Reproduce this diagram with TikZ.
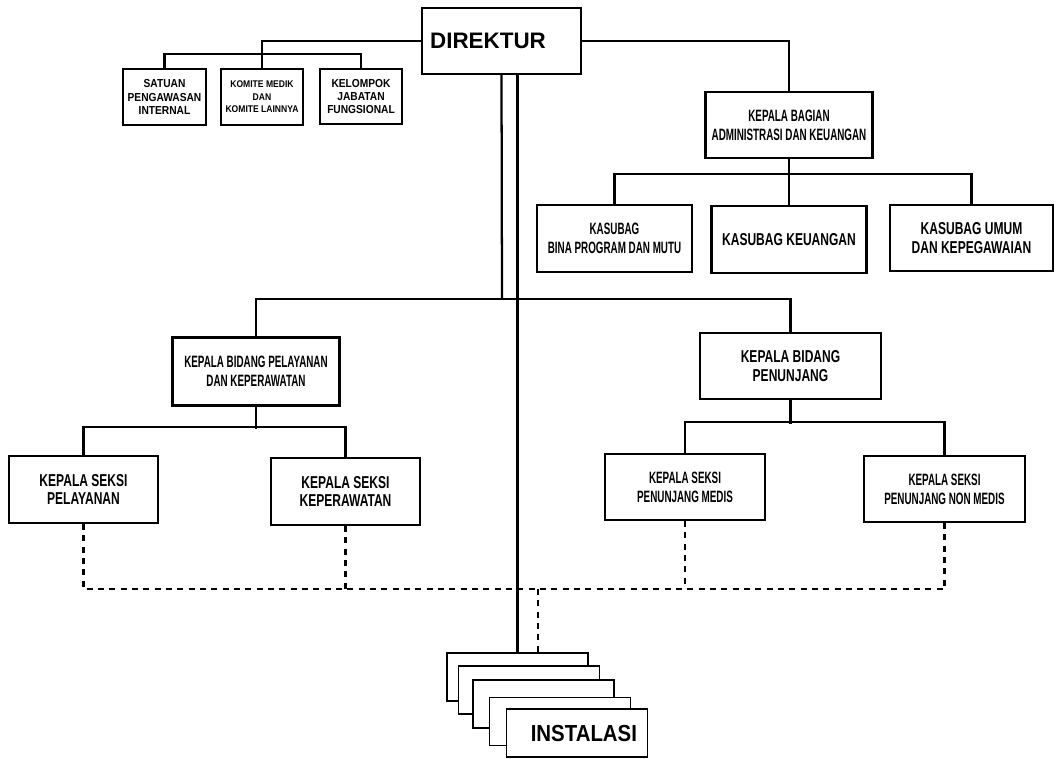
\documentclass[tikz,border=0pt]{standalone}
\usepackage{fontspec}
\setmainfont{Liberation Sans}
\newfontfamily\condA[FakeStretch=0.60]{Liberation Sans}
\newfontfamily\condB[FakeStretch=0.70]{Liberation Sans}
\newfontfamily\condC[FakeStretch=0.88]{Liberation Sans}
\usepackage{tikz}

\tikzset{
  orgbox/.style={draw, line width=1.7pt, fill=white, align=center, inner sep=2pt},
  link/.style={line width=1.7pt},
  dotlink/.style={line width=1.7pt, dash pattern=on 4.5pt off 4pt},
  bigfont/.style={font=\bfseries\fontsize{16.8}{18}\selectfont},
  midfont/.style={font=\condB\bfseries\fontsize{12.9}{13.8}\selectfont},
  narrowfont/.style={font=\condA\bfseries\fontsize{12.3}{14.2}\selectfont},
  smallfont/.style={font=\condC\bfseries\fontsize{8.7}{10}\selectfont},
}

\begin{document}
\begin{tikzpicture}[x=0.75pt,y=0.75pt,yscale=-1,xscale=1]
\useasboundingbox (0,0) rectangle (1057,758);

%Shape: Rectangle [top]
\node [orgbox, bigfont, minimum width=119.25pt, minimum height=49.5pt, text width=107pt, align=left] (dir) at (501.5,41) {DIREKTUR};

%Shape: Rectangle [staff]
\node [orgbox, smallfont, minimum width=62.25pt, minimum height=42pt] (sat) at (164.5,97) {SATUAN\\PENGAWASAN\\INTERNAL};
\node [orgbox, font=\condC\bfseries\fontsize{7.3}{9.4}\selectfont, minimum width=61.5pt, minimum height=42pt] (kom) at (262,97) {KOMITE MEDIK\\DAN\\KOMITE LAINNYA};
\node [orgbox, smallfont, minimum width=61.5pt, minimum height=41.25pt] (kel) at (361,96.5) {KELOMPOK\\JABATAN\\FUNGSIONAL};

%Shape: Rectangle [administrasi]
\node [orgbox, narrowfont, minimum width=125.25pt, minimum height=49.5pt] (kabag) at (789,125) {KEPALA BAGIAN\\ADMINISTRASI DAN KEUANGAN};
\node [orgbox, narrowfont, minimum width=116.25pt, minimum height=50.25pt] (bina) at (614.5,238.5) {KASUBAG\\BINA PROGRAM DAN MUTU};
\node [orgbox, midfont, minimum width=116.25pt, minimum height=50.25pt] (keu) at (789,239.5) {KASUBAG KEUANGAN};
\node [orgbox, midfont, minimum width=122.25pt, minimum height=49.5pt] (umum) at (971.5,238) {KASUBAG UMUM\\DAN KEPEGAWAIAN};

%Shape: Rectangle [bidang]
\node [orgbox, narrowfont, minimum width=125.25pt, minimum height=51pt] (kbp) at (256,371.5) {KEPALA BIDANG PELAYANAN\\DAN KEPERAWATAN};
\node [orgbox, midfont, minimum width=135.75pt, minimum height=49.5pt] (kbpen) at (790.5,366) {KEPALA BIDANG\\PENUNJANG};

%Shape: Rectangle [seksi]
\node [orgbox, midfont, minimum width=111.75pt, minimum height=50.25pt] (sp) at (83.5,489.5) {KEPALA SEKSI\\PELAYANAN};
\node [orgbox, midfont, minimum width=111.75pt, minimum height=50.25pt] (skp) at (345.5,491.5) {KEPALA SEKSI\\KEPERAWATAN};
\node [orgbox, narrowfont, minimum width=120pt, minimum height=49.5pt] (pm) at (685,487) {KEPALA SEKSI\\PENUNJANG MEDIS};
\node [orgbox, narrowfont, minimum width=120.75pt, minimum height=49.5pt] (pnm) at (944.5,489) {KEPALA SEKSI\\PENUNJANG NON MEDIS};

% Connection
\draw [link] (dir.west) -| (kom.north);
\draw [link] (sat.north) -- ++(0,-14) -| (kel.north);
\draw [link] (dir.east) -| (kabag.north);
\draw [link] (kabag.south) -- (keu.north);
\draw [link] (bina.north) -- ++(0,-30) -| (umum.north);
\coordinate (bus) at (502,299);
\draw [link] (dir.south) -- (bus);
\draw [link] (kbp.north) |- (bus) -| (kbpen.north);
\draw [link] (kbp.south) -- ++(0,22);
\draw [link] (sp.north) -- ++(0,-28) -| (skp.north);
\draw [link] (kbpen.south) -- ++(0,24);
\draw [link] (pm.north) -- ++(0,-31) -| (pnm.north);

% Dotted Lines
\coordinate (dotbus) at (538,589);
\draw [dotlink] (sp.south) |- (dotbus) -| (pnm.south);
\draw [dotlink] (skp.south) -- (skp.south |- dotbus);
\draw [dotlink] (pm.south) -- (pm.south |- dotbus);

%Shape: Rectangle [instalasi]
\foreach \n/\cx/\cy in {1/517.5/677,2/529/690,3/543.5/704,4/560/721.5}
  \node [orgbox, line width=1.3pt, minimum width=105.75pt, minimum height=36pt] (inst\n) at (\cx,\cy) {};
\node [orgbox, line width=1.3pt, font=\condC\bfseries\fontsize{17.4}{19}\selectfont, minimum width=105.75pt, minimum height=36pt, text width=90pt, align=right] (inst5) at (577,733) {INSTALASI};
\draw [link] (dir.south) ++(16,0) -- (inst1.north);
\draw [dotlink] (dotbus) -- (dotbus |- inst1.north);

\end{tikzpicture}
\end{document}
